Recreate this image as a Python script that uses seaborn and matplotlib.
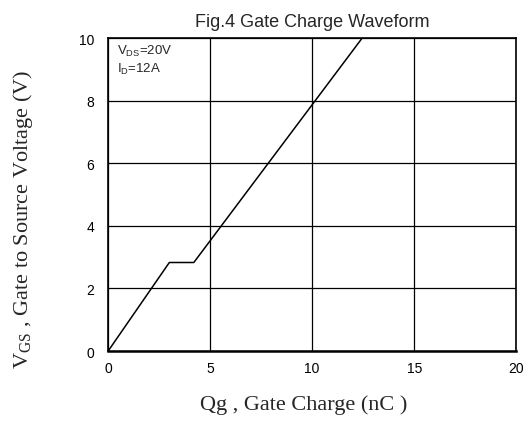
import matplotlib
matplotlib.use("Agg")
import matplotlib.pyplot as plt
import seaborn as sns
import pandas as pd

# data
qg = [0.0, 3.0, 4.2, 12.45]
vgs = [0.0, 2.83, 2.83, 10.0]
x_ticks = [0, 5, 10, 15, 20]
y_ticks = [0, 2, 4, 6, 8, 10]

sns.set_style("white")
plt.rcParams['font.family'] = ['Liberation Sans', 'DejaVu Sans']

df = pd.DataFrame({"Qg": qg, "VGS": vgs})

fig = plt.figure(figsize=(5.3, 4.39), dpi=100)
ax = fig.add_axes([0.204, 0.198, 0.770, 0.713])
sns.lineplot(data=df, x="Qg", y="VGS", ax=ax, color="black", linewidth=1.1, sort=False)

ax.set_xlim(0, 20)
ax.set_ylim(0, 10)
ax.set_xticks(x_ticks)
ax.set_yticks(y_ticks)
ax.tick_params(axis='both', labelsize=10, length=0, colors='black')
ax.tick_params(axis='x', pad=7)
ax.tick_params(axis='y', pad=10)
ax.grid(True, color='black', linewidth=0.9)
for s in ax.spines.values():
    s.set_color('black')
    s.set_linewidth(1.2)
ax.spines['bottom'].set_linewidth(1.8)

ax.set_xlabel("Qg , Gate Charge (nC )", family='Liberation Serif', fontsize=16)
ax.xaxis.set_label_coords(0.478, -0.138)
ax.set_ylabel(r"V$_{\mathregular{GS}}$ , Gate to Source Voltage (V)", family='Liberation Serif',
              fontsize=16)
ax.yaxis.set_label_coords(-0.178, 0.425)
ax.set_title("Fig.4 Gate Charge Waveform", fontsize=13, pad=9)

ax.text(0.022, 0.985, "V$_{\\mathregular{DS}}$=20V\nI$_{\\mathregular{D}}$=12A", transform=ax.transAxes,
        fontsize=9.5, va='top', ha='left', linespacing=1.25)

fig.savefig("out.png", dpi=100)
